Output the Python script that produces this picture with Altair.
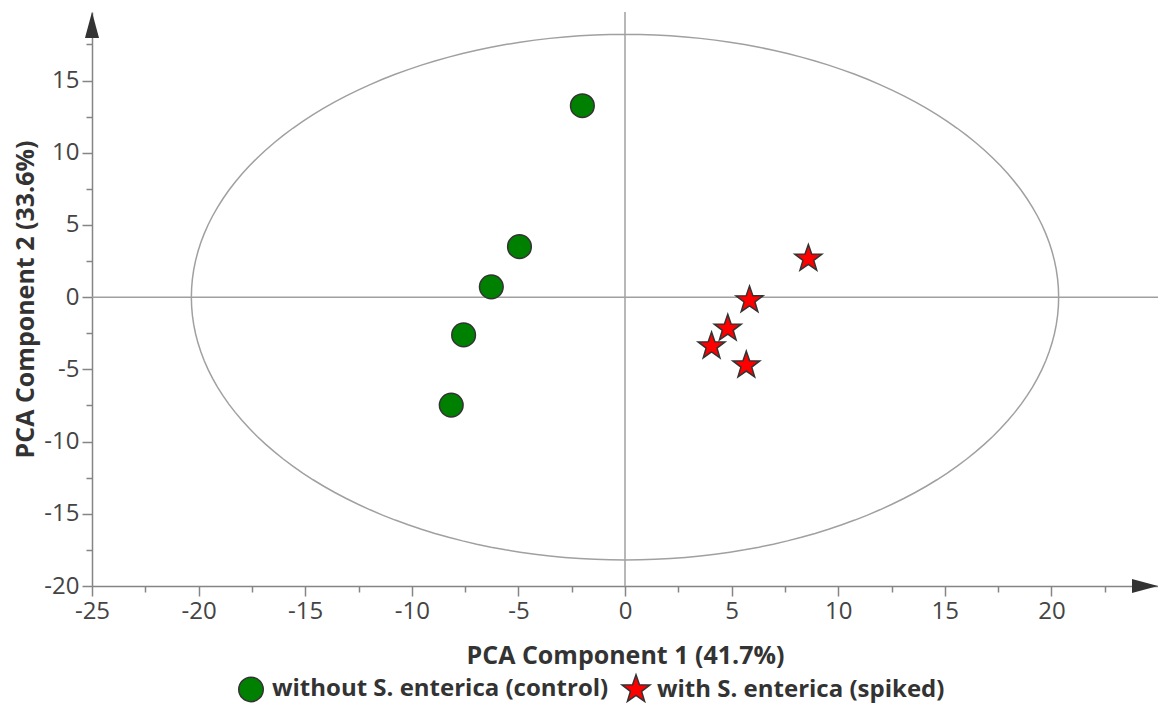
import altair as alt
import pandas as pd
import numpy as np

# ---- data ----
ctrl_label = "without S. enterica (control)"
spiked_label = "with S. enterica (spiked)"

ctrl_x = [-2.0, -4.95, -6.27, -7.57, -8.15]
ctrl_y = [13.26, 3.5, 0.72, -2.61, -7.47]

spiked_x = [8.6, 5.84, 4.82, 4.06, 5.69]
spiked_y = [2.67, -0.21, -2.17, -3.40, -4.72]

ellipse_rx = 20.34
ellipse_ry = 18.2

x_domain = [-25, 25]
y_domain = [-20, 19.75]
x_ticks = [-25 + 2.5 * i for i in range(20)]
y_ticks = [-20 + 2.5 * i for i in range(16)]

# ---- tables ----
pts = pd.DataFrame({
    "x": ctrl_x + spiked_x,
    "y": ctrl_y + spiked_y,
    "group": [ctrl_label] * len(ctrl_x) + [spiked_label] * len(spiked_x),
})

theta = np.deg2rad(np.arange(0, 361, 2))
ell = pd.DataFrame({
    "x": ellipse_rx * np.cos(theta),
    "y": ellipse_ry * np.sin(theta),
    "o": np.arange(len(theta)),
})

zero_x = pd.DataFrame({"x": [0]})
zero_y = pd.DataFrame({"y": [0]})
arrow_right = pd.DataFrame({"x": [x_domain[1]], "y": [y_domain[0]]})
arrow_up = pd.DataFrame({"x": [x_domain[0]], "y": [y_domain[1]]})

# five-pointed star symbol path (outer radius 1.2 in symbol units)
_star_pts = []
for k in range(10):
    r = 1.2 if k % 2 == 0 else 1.2 * 0.40
    a = np.deg2rad(-90 + 36 * k)
    _star_pts.append(f"{r * np.cos(a):.3f},{r * np.sin(a):.3f}")
STAR = "M" + "L".join(_star_pts) + "Z"

FONT = "Open Sans"
AXIS_COLOR = "#858585"
LINE_COLOR = "#a0a0a0"

xs = alt.Scale(domain=x_domain, nice=False, zero=False)
ys = alt.Scale(domain=y_domain, nice=False, zero=False)

common_axis = dict(
    grid=False,
    domainColor=AXIS_COLOR,
    domainWidth=1.5,
    tickColor=AXIS_COLOR,
    tickWidth=1.5,
    tickSize={"condition": {"test": "datum.value % 5 === 0", "value": 10}, "value": 6},
    labelFont=FONT,
    labelFontSize=24,
    labelColor="#444444",
    labelPadding=3,
    titleFont=FONT,
    titleFontSize=25,
    titleFontWeight="bold",
    titleColor="#333333",
    labelExpr="datum.value % 5 === 0 ? '' + datum.value : ''",
    labelOverlap=False,
    labelFlush=False,
)

x_axis = alt.Axis(title="PCA Component 1 (41.7%)", values=x_ticks, titlePadding=20, **common_axis)
y_axis = alt.Axis(title="PCA Component 2 (33.6%)", values=y_ticks, titlePadding=5, **common_axis)

X = alt.X("x:Q", scale=xs, axis=x_axis)
Y = alt.Y("y:Q", scale=ys, axis=y_axis)

ellipse = alt.Chart(ell).mark_line(color=LINE_COLOR, strokeWidth=1.5).encode(
    x=X, y=Y, order="o:Q"
)

vline = alt.Chart(zero_x).mark_rule(color=LINE_COLOR, strokeWidth=1.5).encode(x=X)
hline = alt.Chart(zero_y).mark_rule(color=LINE_COLOR, strokeWidth=1.5).encode(y=Y)

arr_r = alt.Chart(arrow_right).mark_point(
    shape="M0,0L-2,-0.54L-2,0.54Z", filled=True, color="#333333", opacity=1, size=676
).encode(x=X, y=Y)
arr_u = alt.Chart(arrow_up).mark_point(
    shape="M0,0L-0.54,2L0.54,2Z", filled=True, color="#333333", opacity=1, size=676
).encode(x=X, y=Y)

points = alt.Chart(pts).mark_point(
    filled=True, opacity=1, stroke="#333333", strokeWidth=1.5, size=560
).encode(
    x=X,
    y=Y,
    color=alt.Color(
        "group:N",
        scale=alt.Scale(domain=[ctrl_label, spiked_label], range=["#008000", "#ff0000"]),
        legend=alt.Legend(title=None),
    ),
    shape=alt.Shape(
        "group:N",
        scale=alt.Scale(domain=[ctrl_label, spiked_label], range=["circle", STAR]),
        legend=alt.Legend(title=None),
    ),
)

chart = alt.layer(ellipse, vline, hline, arr_r, arr_u, points).properties(
    width=1066,
    height=574,
    autosize=alt.AutoSizeParams(type="none"),
    padding={"left": 84, "top": 4, "right": 0, "bottom": 117},
).configure_view(stroke=None).configure_legend(
    orient="none",
    legendX=146,
    legendY=664,
    direction="horizontal",
    labelFont=FONT,
    labelFontSize=24,
    labelFontWeight="bold",
    labelColor="#333333",
    symbolSize=600,
    symbolStrokeColor="#333333",
    symbolStrokeWidth=1.5,
    labelOffset=8,
    columnPadding=10,
    labelLimit=1000,
)

chart.save("out.html", embed_options={"renderer": "svg", "actions": False})
